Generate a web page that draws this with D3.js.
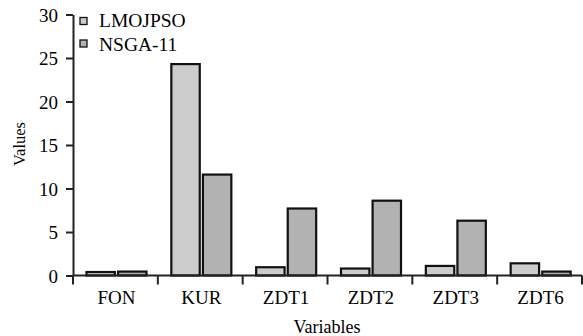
<!DOCTYPE html>
<html><head><meta charset="utf-8">
<script src="https://cdn.jsdelivr.net/npm/d3@7"></script>
<style>body{margin:0;background:#fff}svg{display:block}text{font-family:"Liberation Serif","Times New Roman",serif;fill:#000}</style>
</head><body>
<svg id="c" width="583" height="336"></svg>
<script>
const categories = ["FON","KUR","ZDT1","ZDT2","ZDT3","ZDT6"];
const seriesNames = ["LMOJPSO","NSGA-11"];
const lmojpso = [0.4, 24.3, 0.95, 0.8, 1.1, 1.4];
const nsga = [0.45, 11.6, 7.7, 8.6, 6.3, 0.45];
const yTicks = [0,5,10,15,20,25,30];
const colors = ["#cccccc","#b2b2b2"];

const svg = d3.select("#c");
const x = d3.scaleBand().domain(categories).range([73, 582]).padding(0);
const xs = d3.scaleBand().domain(seriesNames).range([13.5, 73.5]).paddingInner(0.1);
const y = d3.scaleLinear().domain([0,30]).range([275.5, 14.5]);
const values = [lmojpso, nsga];

// bars
seriesNames.forEach((s, si) => {
  svg.append("g").selectAll("rect").data(categories).join("rect")
    .attr("x", c => x(c) + xs(s))
    .attr("width", xs.bandwidth())
    .attr("y", (c, i) => y(values[si][i]))
    .attr("height", (c, i) => y(0) - y(values[si][i]))
    .attr("fill", colors[si])
    .attr("stroke", "#111")
    .attr("stroke-width", 2.2);
});

// y axis
const ya = svg.append("g").attr("transform", "translate(73,0)")
  .call(d3.axisLeft(y).tickValues(yTicks).tickSize(7).tickPadding(8).tickSizeOuter(0));
ya.select(".domain").attr("stroke", "#222").attr("stroke-width", 2);
ya.selectAll(".tick line").attr("stroke", "#222").attr("stroke-width", 2);
ya.selectAll("text").style("font-size", "19px").attr("dy", "0.35em");

// x axis
const xa = svg.append("g").attr("transform", "translate(0,275.5)");
xa.append("line").attr("x1", 73).attr("x2", 582).attr("stroke", "#222").attr("stroke-width", 2);
const bounds = categories.map(c => x(c)).concat([x(categories[categories.length-1]) + x.bandwidth()]);
xa.selectAll("line.t").data(bounds).join("line").attr("class","t")
  .attr("x1", d => d).attr("x2", d => d).attr("y1", 0).attr("y2", 9)
  .attr("stroke", "#222").attr("stroke-width", 2);
xa.selectAll("text").data(categories).join("text")
  .attr("x", c => x(c) + x.bandwidth()/2 + 1).attr("y", 28)
  .attr("text-anchor", "middle").style("font-size", "19px").text(c => c);

// axis titles
svg.append("text").attr("x", 327).attr("y", 333).attr("text-anchor","middle").style("font-size","18px").text("Variables");
svg.append("text").attr("transform","translate(25,144) rotate(-90)").attr("text-anchor","middle").style("font-size","16.5px").text("Values");

// legend
const lg = svg.append("g");
seriesNames.forEach((s, i) => {
  lg.append("rect").attr("x", 80).attr("y", 17.5 + i*22.5).attr("width", 7).attr("height", 7)
    .attr("fill", colors[i]).attr("stroke", "#111").attr("stroke-width", 1.3);
  lg.append("text").attr("x", 99).attr("y", 27 + i*23.5).style("font-size", "19.5px").text(s);
});
</script>
</body></html>
